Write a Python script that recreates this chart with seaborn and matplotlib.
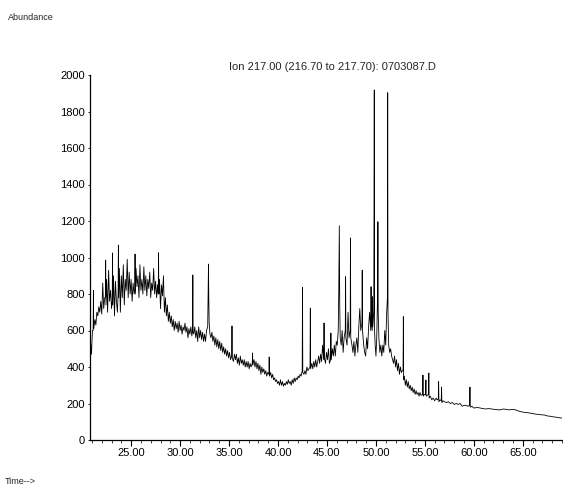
import matplotlib
matplotlib.use("Agg")
import matplotlib.pyplot as plt
import seaborn as sns
import pandas as pd
from matplotlib.ticker import MultipleLocator, FixedLocator

# (retention time in min, abundance), in four stretches
hump_points = [
    (20.85, 540), (20.95, 470), (21.05, 600), (21.12, 600), (21.15, 820), (21.18, 610),
    (21.3, 660), (21.4, 630), (21.5, 700), (21.6, 680), (21.7, 730), (21.8, 700), (21.9, 760),
    (22.0, 690), (22.1, 860), (22.2, 720), (22.3, 780), (22.37, 780), (22.4, 986), (22.43, 740),
    (22.5, 880), (22.6, 700), (22.7, 930), (22.8, 760), (22.9, 820),
    (23.0, 720), (23.07, 760), (23.1, 1025), (23.13, 740), (23.2, 900), (23.3, 680), (23.4, 870),
    (23.5, 760), (23.6, 700), (23.67, 800), (23.7, 1068), (23.73, 780), (23.8, 940), (23.9, 700),
    (24.0, 900), (24.1, 780), (24.2, 960), (24.3, 740), (24.4, 880), (24.5, 820), (24.6, 990),
    (24.7, 780), (24.8, 920), (24.9, 800),
    (25.0, 880), (25.1, 760), (25.2, 860), (25.3, 800), (25.37, 820), (25.4, 1019), (25.43, 800),
    (25.5, 940), (25.6, 840), (25.7, 900), (25.8, 780), (25.9, 960),
    (26.0, 820), (26.1, 880), (26.2, 800), (26.3, 949), (26.4, 820), (26.5, 900), (26.6, 790),
    (26.7, 880), (26.8, 830), (26.9, 920),
    (27.0, 780), (27.1, 860), (27.2, 820), (27.3, 940), (27.4, 800), (27.5, 870), (27.6, 780),
    (27.7, 850), (27.77, 800), (27.8, 1026), (27.83, 800), (27.9, 880),
    (28.0, 720), (28.1, 850), (28.2, 790), (28.3, 900), (28.4, 700), (28.5, 780), (28.6, 680),
    (28.7, 740), (28.8, 650), (28.9, 700),
]
valley_points = [
    (29.0, 640), (29.1, 680), (29.2, 620), (29.3, 660), (29.4, 600), (29.5, 650), (29.6, 610),
    (29.7, 640), (29.8, 590), (29.9, 650), (30.0, 600), (30.1, 630), (30.2, 580),
    (30.3, 620), (30.4, 600), (30.5, 640), (30.6, 590), (30.7, 620), (30.8, 560), (30.9, 610),
    (31.0, 580), (31.1, 620), (31.2, 570), (31.27, 600), (31.3, 904), (31.33, 590),
    (31.4, 580), (31.5, 620), (31.6, 560), (31.7, 600), (31.8, 540), (31.9, 620), (32.0, 560),
    (32.1, 600), (32.2, 550), (32.3, 590), (32.4, 540), (32.5, 580), (32.6, 540),
    (32.7, 600), (32.82, 620), (32.86, 800), (32.9, 964), (32.93, 780), (32.97, 640), (33.05, 580),
    (33.15, 560), (33.25, 590), (33.35, 540), (33.45, 570), (33.55, 520),
    (33.65, 560), (33.75, 510), (33.85, 550), (33.95, 500), (34.05, 540), (34.15, 490),
    (34.25, 530), (34.35, 480), (34.45, 510), (34.55, 470), (34.65, 500),
    (34.75, 460), (34.85, 490), (34.95, 450), (35.05, 480), (35.15, 440), (35.27, 460),
    (35.3, 625), (35.33, 450), (35.45, 430), (35.55, 470), (35.65, 440),
    (35.75, 470), (35.85, 420), (35.95, 450), (36.05, 410), (36.15, 460), (36.25, 420),
    (36.35, 440), (36.45, 410), (36.55, 440), (36.65, 400), (36.75, 430),
    (36.85, 400), (36.95, 430), (37.05, 390), (37.15, 420), (37.25, 400), (37.37, 420),
    (37.4, 477), (37.43, 410), (37.55, 440), (37.65, 400), (37.75, 430),
    (37.85, 390), (37.95, 420), (38.05, 380), (38.15, 410), (38.25, 360), (38.35, 400),
    (38.45, 370), (38.55, 390), (38.65, 360), (38.75, 380), (38.85, 350),
    (38.95, 370), (39.07, 360), (39.1, 455), (39.13, 350), (39.25, 370), (39.35, 340),
    (39.45, 360), (39.55, 330), (39.65, 340), (39.75, 320), (39.85, 330),
    (39.95, 310), (40.05, 320), (40.15, 300), (40.25, 330), (40.35, 300), (40.45, 320),
    (40.55, 295), (40.65, 310), (40.75, 300), (40.85, 320), (40.95, 305),
    (41.05, 330), (41.15, 310), (41.25, 320), (41.35, 300), (41.45, 330), (41.55, 310),
    (41.65, 340), (41.75, 320), (41.85, 340), (41.95, 330),
]
cluster_points = [
    (42.05, 350), (42.15, 340), (42.25, 360), (42.35, 350), (42.47, 380), (42.5, 837),
    (42.53, 370), (42.65, 360), (42.75, 380), (42.85, 360), (42.95, 400), (43.05, 380),
    (43.15, 390), (43.27, 400), (43.3, 723), (43.33, 390), (43.45, 420), (43.55, 390),
    (43.65, 430), (43.75, 400), (43.85, 440), (43.95, 400), (44.05, 430),
    (44.15, 460), (44.25, 420), (44.35, 470), (44.45, 430), (44.55, 520), (44.67, 440),
    (44.7, 641), (44.73, 450), (44.85, 420), (44.95, 480), (45.05, 440),
    (45.15, 500), (45.25, 420), (45.37, 440), (45.4, 586), (45.43, 440), (45.55, 500),
    (45.65, 460), (45.75, 520), (45.85, 460), (45.95, 540), (46.05, 520),
    (46.15, 600), (46.2, 800), (46.26, 1174), (46.3, 760), (46.35, 560), (46.45, 520),
    (46.55, 600), (46.65, 480), (46.75, 560), (46.87, 600), (46.9, 895),
    (46.93, 560), (47.05, 520), (47.15, 700), (47.25, 560), (47.37, 600), (47.4, 1107),
    (47.43, 560), (47.55, 520), (47.65, 480), (47.75, 540), (47.85, 460),
    (47.95, 520), (48.05, 560), (48.15, 480), (48.25, 620), (48.35, 720), (48.45, 600),
    (48.57, 640), (48.6, 931), (48.63, 600), (48.75, 520), (48.85, 480),
    (48.95, 460), (49.05, 560), (49.15, 500), (49.25, 620), (49.35, 700), (49.47, 600),
    (49.5, 840), (49.53, 640), (49.62, 600), (49.65, 785), (49.68, 620),
    (49.78, 700), (49.81, 1400), (49.83, 1918), (49.86, 600), (49.92, 520), (50.0, 460),
    (50.08, 560), (50.17, 800), (50.2, 1196), (50.23, 700), (50.3, 560),
    (50.4, 480), (50.5, 520), (50.6, 460), (50.7, 520), (50.8, 480), (50.9, 600),
    (51.0, 520), (51.1, 700), (51.17, 780), (51.2, 1903), (51.23, 700), (51.3, 520),
    (51.4, 480), (51.5, 500), (51.6, 460), (51.7, 440), (51.8, 420), (51.9, 460),
    (52.0, 400), (52.1, 440), (52.2, 380), (52.3, 420), (52.4, 360), (52.5, 400),
    (52.6, 370), (52.7, 380), (52.77, 380), (52.8, 676), (52.83, 330), (52.9, 350),
]
tail_points = [
    (53.0, 300), (53.1, 330), (53.2, 290), (53.3, 320), (53.4, 280), (53.5, 300), (53.6, 270),
    (53.7, 290), (53.8, 260), (53.9, 280), (54.0, 250), (54.1, 270),
    (54.2, 250), (54.3, 260), (54.4, 240), (54.5, 260), (54.6, 245), (54.77, 250), (54.8, 356),
    (54.83, 240), (54.95, 250), (55.07, 250), (55.1, 329), (55.13, 240),
    (55.25, 245), (55.37, 250), (55.4, 367), (55.43, 230), (55.55, 240), (55.7, 220),
    (55.85, 230), (56.0, 215), (56.15, 230), (56.25, 220), (56.37, 225), (56.4, 320),
    (56.43, 210), (56.55, 220), (56.67, 215), (56.7, 290), (56.73, 205), (56.85, 215),
    (57.0, 210), (57.2, 205), (57.4, 210), (57.6, 200), (57.8, 205), (58.0, 195),
    (58.2, 200), (58.4, 195), (58.6, 200), (58.8, 185), (59.0, 190), (59.2, 190), (59.4, 185),
    (59.57, 190), (59.6, 290), (59.63, 180), (59.8, 185), (60.0, 175),
    (60.3, 178), (60.6, 176), (60.9, 172), (61.2, 170), (61.5, 172), (61.8, 170), (62.1, 168),
    (62.4, 166), (62.7, 165), (63.0, 170), (63.3, 168), (63.6, 165),
    (63.9, 168), (64.2, 166), (64.5, 160), (64.8, 155), (65.1, 152), (65.4, 150), (65.7, 148),
    (66.0, 145), (66.3, 142), (66.6, 140), (66.9, 138), (67.2, 137),
    (67.5, 132), (67.8, 130), (68.1, 127), (68.4, 125), (68.7, 122), (69.0, 120),
]
x_tick_values = [25, 30, 35, 40, 45, 50, 55, 60, 65]
x_tick_labels = ["25.00", "30.00", "35.00", "40.00", "45.00", "50.00", "55.00", "60.00", "65.00"]
y_tick_values = [0, 200, 400, 600, 800, 1000, 1200, 1400, 1600, 1800, 2000]

title_text = "Ion 217.00 (216.70 to 217.70): 0703087.D"

all_points = hump_points + valley_points + cluster_points + tail_points
df = pd.DataFrame(all_points, columns=["time", "abundance"])

sns.set_style("ticks")
plt.rcParams["font.family"] = ["Liberation Sans", "DejaVu Sans"]

W, H = 563, 492
fig = plt.figure(figsize=(W / 100, H / 100), dpi=100)
ax = fig.add_axes([90 / W, (H - 440) / H, (562 - 90) / W, (440 - 75) / H])

sns.lineplot(data=df, x="time", y="abundance", color="black", linewidth=0.6,
             ax=ax, estimator=None, sort=False)

ax.set_xlim(20.8, 69.0)
ax.set_ylim(0, 2000)
ax.set_xlabel("")
ax.set_ylabel("")
ax.xaxis.set_major_locator(FixedLocator(x_tick_values))
ax.set_xticklabels(x_tick_labels)
ax.xaxis.set_minor_locator(MultipleLocator(1))
ax.yaxis.set_major_locator(FixedLocator(y_tick_values))
ax.set_yticklabels([str(v) for v in y_tick_values])

ax.tick_params(axis="x", which="major", direction="out", length=4, width=0.8,
               labelsize=8, pad=2, colors="black")
ax.tick_params(axis="x", which="minor", direction="out", length=2, width=0.6)
ax.tick_params(axis="y", which="major", direction="out", length=1.5, width=0.6,
               labelsize=8, pad=2, colors="black")
for s in ["top", "right"]:
    ax.spines[s].set_visible(False)
for s in ["left", "bottom"]:
    ax.spines[s].set_linewidth(0.9)
    ax.spines[s].set_color("black")

fig.text(332 / W, 1 - 67 / H, title_text, ha="center", va="center", fontsize=8)
fig.text(8 / W, 1 - 17 / H, "Abundance", ha="left", va="center", fontsize=6.5)
fig.text(5 / W, 1 - 482 / H, "Time-->", ha="left", va="center", fontsize=6.5)

fig.savefig("out.png", dpi=100, facecolor="white")
